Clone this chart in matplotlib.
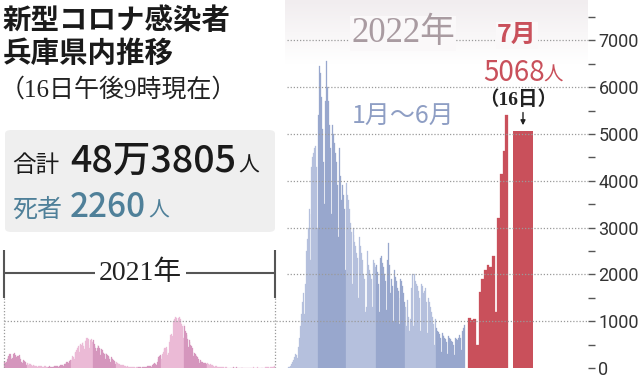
import numpy as np
import matplotlib.pyplot as plt
from matplotlib.colors import LinearSegmentedColormap
from matplotlib.patches import FancyBboxPatch
from matplotlib.ticker import MultipleLocator

plt.rcParams['font.family'] = ['Noto Sans CJK JP', 'DejaVu Sans']

# daily new cases, 2021
jan21 = [120, 150, 110, 130, 200, 230, 250, 290, 300, 260, 190, 210, 290, 300, 320, 280,
         230, 170, 250, 260, 280, 240, 200, 130, 110, 160, 170, 140, 120, 90, 60]
feb21 = [110, 60, 100, 90, 80, 70, 60, 40, 70, 60, 50, 40, 45, 30, 30, 50, 45, 40, 40, 35,
         30, 20, 25, 40, 35, 30, 30, 20]
mar21 = [15, 30, 35, 30, 25, 30, 20, 15, 40, 35, 40, 45, 40, 35, 20, 45, 50, 55, 60, 55,
         45, 40, 80, 95, 110, 120, 130, 100, 90, 160, 170]
apr21 = [180, 220, 260, 230, 190, 330, 350, 380, 420, 450, 460, 350, 500, 520, 500, 540,
         560, 470, 400, 580, 600, 640, 650, 620, 500, 420, 600, 620, 580, 560]
may21 = [600, 520, 480, 420, 360, 430, 500, 460, 420, 280, 410, 400, 380, 350, 330, 300,
         200, 320, 300, 280, 260, 240, 200, 130, 230, 210, 190, 170, 150, 130, 90]
jun21 = [120, 110, 100, 90, 80, 70, 40, 70, 60, 55, 50, 45, 40, 25, 40, 35, 30, 30, 25, 20,
         15, 25, 25, 20, 20, 15, 10, 15, 25, 20]
jul21 = [20, 25, 20, 15, 10, 25, 30, 30, 25, 20, 15, 30, 35, 40, 45, 50, 45, 30, 40, 60,
         80, 100, 110, 90, 70, 120, 200, 230, 250, 270, 260]
aug21 = [200, 300, 350, 400, 420, 430, 450, 400, 280, 330, 550, 600, 700, 720, 680, 560,
         1000, 1050, 1080, 1100, 1070, 1000, 750, 1060, 1080, 1040, 1000, 950, 900, 650, 950]
sep21 = [900, 800, 750, 700, 620, 450, 600, 550, 500, 480, 420, 350, 250, 320, 300, 280,
         260, 230, 200, 150, 110, 170, 150, 130, 120, 100, 70, 110, 100, 90]
oct21 = [110, 100, 80, 60, 90, 80, 70, 60, 50, 40, 25, 45, 40, 35, 30, 25, 20, 15, 20, 20,
         15, 15, 15, 10, 5, 15, 15, 10, 10, 10, 5]
nov21 = [10, 8, 6, 5, 10, 12, 8, 5, 10, 12, 10, 8, 6, 5, 8, 10, 12, 8, 6, 5, 5, 8, 10, 8,
         6, 5, 8, 10, 6, 5]
dec21 = [8, 10, 12, 8, 6, 5, 10, 12, 10, 8, 6, 5, 10, 12, 10, 8, 6, 5, 12, 15, 18, 15, 12,
         10, 12, 15, 20, 25, 30, 35, 40]

# daily new cases, 2022 January - June
jan22 = [25, 30, 40, 80, 120, 180, 240, 300, 270, 210, 450, 650, 900, 1150, 1400, 1600,
         1150, 1800, 2500, 2750, 3000, 3400, 3300, 2300, 4300, 4500, 4600, 4700, 4750, 4300, 3000]
feb22 = [5400, 6450, 6300, 5800, 5100, 4400, 3500, 5700, 6550, 6000, 5700, 5200, 4700, 3300,
         5200, 5000, 4800, 4600, 4400, 3900, 2800, 4700, 4100, 3600, 3900, 3700, 3400, 2100]
mar22 = [3950, 3700, 3600, 3400, 3100, 2900, 1800, 3000, 2850, 2700, 2600, 2450, 2350, 1500,
         2800, 2600, 2450, 2300, 2000, 1900, 1200, 1300, 2500, 2200, 2100, 2000, 1900, 1300,
         2300, 2250, 2150]
apr22 = [2200, 2050, 1800, 1200, 2350, 2400, 2250, 2150, 2000, 1850, 1250, 2300, 2670, 2200,
         1600, 1900, 1750, 1000, 2100, 1950, 1850, 1700, 1650, 1500, 950, 1900, 1850, 1750,
         1600, 1420]
may22 = [1300, 900, 1450, 1100, 800, 1050, 1700, 2000, 900, 2000, 1850, 1800, 1750, 1650,
         1500, 800, 1800, 1750, 1600, 1650, 1700, 1400, 750, 1500, 1400, 1300, 1200, 1100,
         950, 500, 1050]
jun22 = [850, 800, 760, 720, 650, 350, 750, 700, 680, 640, 620, 560, 300, 680, 650, 620,
         580, 560, 500, 280, 640, 620, 600, 650, 700, 650, 380, 800, 850, 920]

# July 2022: 1st - 15th, then the 16th
jul22 = [1070, 1030, 1050, 500, 1620, 1900, 2100, 2200, 2150, 2390, 1200, 3200, 4150, 4630, 5400]
jul16 = 5068

months21 = [jan21, feb21, mar21, apr21, may21, jun21, jul21, aug21, sep21, oct21, nov21, dec21]
months22 = [jan22, feb22, mar22, apr22, may22, jun22]

pink = ['#d596bd', '#ebbad6']
blue = ['#b5c0dd', '#98a7cd']
red = '#c9505b'
serif_jp = ['Liberation Serif', 'Noto Sans CJK JP']

W, H = 640, 378
fig = plt.figure(figsize=(W / 100, H / 100), dpi=100)

def fx(x):
    return x / W

def fy(y):
    return 1 - y / H

# zero line sits at y = 368 px, 46.8 px per 1000 cases
ax = fig.add_axes([0, 10 / H, 588 / W, 368 / H])
ax.set_xlim(0, 588)
ax.set_ylim(0, 368 / 46.8 * 1000)

# faint shading at the top of the 2022 panel
grad = np.linspace(0, 1, 100).reshape(-1, 1)
bg = LinearSegmentedColormap.from_list('bg', ['#ffffff', '#f1edef'])
ax.imshow(grad, extent=(285, 588, 6500, 368 / 46.8 * 1000), cmap=bg, origin='lower',
          aspect='auto', zorder=0)
mask = '#faf8f9'

# 2021 bars: squeezed into x 4..275
all21 = sum(months21, [])
w21 = 271 / len(all21)
start = 0
for m, vals in enumerate(months21):
    xs = 4 + (np.arange(start, start + len(vals)) + 0.5) * w21
    ax.bar(xs, vals, width=w21, color=pink[m % 2], edgecolor=pink[m % 2], linewidth=0.2, zorder=2)
    start += len(vals)

# 2022 Jan-Jun bars: x 288..465
all22 = sum(months22, [])
w22 = 177 / len(all22)
start = 0
for m, vals in enumerate(months22):
    xs = 288 + (np.arange(start, start + len(vals)) + 0.5) * w22
    ax.bar(xs, vals, width=w22, color=blue[m % 2], edgecolor=blue[m % 2], linewidth=0.2, zorder=2)
    start += len(vals)

# July bars
wj = 40 / len(jul22)
xs = 468 + (np.arange(len(jul22)) + 0.5) * wj
ax.bar(xs, jul22, width=wj, color=red, edgecolor=red, linewidth=0.2, zorder=2)
ax.bar(523, jul16, width=20, color=red, zorder=2)

# dotted grid
for v in range(1000, 8000, 1000):
    x0 = 4 if v == 1000 else 287
    ax.hlines(v, x0, 588, colors='#9a9a9a', linestyles=(0, (1, 1.5)), linewidth=0.9, zorder=3)

# 2021 bracket
ax.vlines([4, 275], 0, 1500, colors='#9a9a9a', linestyles=(0, (1, 1.5)), linewidth=0.9, zorder=3)
ax.vlines([4, 275], 1500, 2520, colors='#555555', linewidth=1.5, zorder=3)
ax.hlines(2030, 4, 95, colors='#555555', linewidth=1.5, zorder=3)
ax.hlines(2030, 186, 275, colors='#555555', linewidth=1.5, zorder=3)
ax.text(140, 2030, '2021年', ha='center', va='center', fontsize=20, color='#222222',
        family=serif_jp, zorder=4)

# right axis
for s in ax.spines.values():
    s.set_visible(False)
ax.set_xticks([])
ax.yaxis.tick_right()
ax.yaxis.set_major_locator(MultipleLocator(1000))
ax.yaxis.set_minor_locator(MultipleLocator(500))
ax.tick_params(axis='y', which='both', direction='out', length=5, width=1, color='#555555',
               pad=2.5, labelsize=13, labelcolor='#333333')
for lab in ax.get_yticklabels():
    lab.set_family('Roboto')

# title block
fig.text(fx(3), fy(29), '新型コロナ感染者', fontsize=20.5, fontweight='bold', color='#1a1a1a', va='baseline')
fig.text(fx(3), fy(62), '兵庫県内推移', fontsize=20.5, fontweight='bold', color='#1a1a1a', va='baseline')
fig.text(fx(0), fy(97), '（16日午後9時現在）', fontsize=18, color='#222222', va='baseline',
         family=serif_jp)

# totals box
box = FancyBboxPatch((fx(5), fy(232)), fx(270), 102 / H, boxstyle='round,pad=0,rounding_size=0.01',
                     transform=fig.transFigure, facecolor='#efefef', edgecolor='none', zorder=0)
fig.patches.append(box)
fig.text(fx(12), fy(172), '合計', fontsize=17, color='#1a1a1a', va='baseline')
fig.text(fx(70), fy(172), '48万3805', fontsize=27, fontweight='medium', color='#1a1a1a', va='baseline')
fig.text(fx(238), fy(172), '人', fontsize=15, color='#1a1a1a', va='baseline')
fig.text(fx(12), fy(217), '死者', fontsize=18, color='#4f8099', va='baseline')
fig.text(fx(70), fy(217), '2260', fontsize=24, fontweight='medium', color='#4f8099', va='baseline')
fig.text(fx(148), fy(217), '人', fontsize=15, color='#4f8099', va='baseline')

# 2022 labels
fig.text(fx(403), fy(42), '2022年', fontsize=25, color='#a99ba1', ha='center', va='baseline',
         family=serif_jp, bbox=dict(facecolor=mask, edgecolor='none', pad=1))
fig.text(fx(403), fy(123), '1月～6月', fontsize=18, color='#8e9ec4', ha='center', va='baseline')
fig.text(fx(517), fy(42), '7月', fontsize=18, fontweight='bold', color=red, ha='center', va='baseline',
         bbox=dict(facecolor=mask, edgecolor='none', pad=1))
fig.text(fx(514), fy(81), '5068', fontsize=20, color=red, ha='center', va='baseline')
fig.text(fx(553), fy(81), '人', fontsize=14, color=red, ha='center', va='baseline')
fig.text(fx(518), fy(105), '（16日）', fontsize=14, fontweight='bold', color='#222222', ha='center',
         va='baseline', family=serif_jp)
ax.annotate('', xy=(523, jul16 + 60), xytext=(523, jul16 + 450),
            arrowprops=dict(arrowstyle='-|>', color='#222222', lw=1, mutation_scale=7), zorder=5)

fig.savefig('out.png', dpi=100)
